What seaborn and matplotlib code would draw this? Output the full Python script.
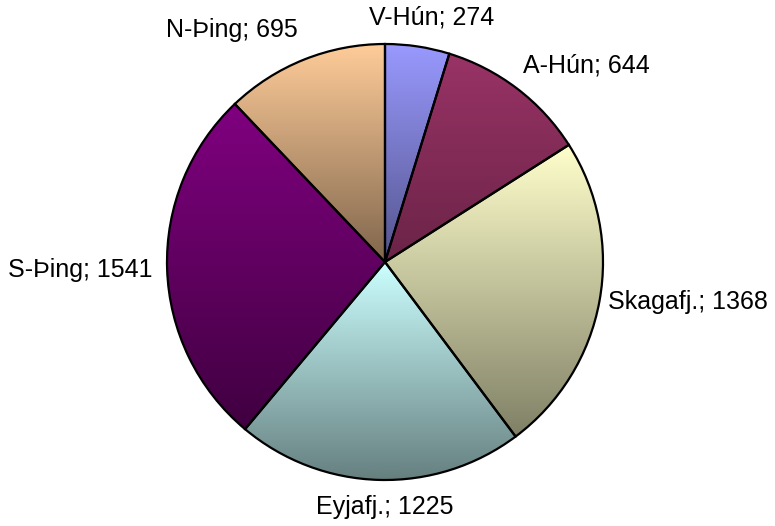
"""
Pie chart of counts per district, with the old spreadsheet style
vertical gradient fill in each slice.
"""
import numpy as np
import matplotlib
matplotlib.use("Agg")
import matplotlib.pyplot as plt
import seaborn as sns

districts = ["V-Hún", "A-Hún", "Skagafj.", "Eyjafj.", "S-Þing", "N-Þing"]
counts = [274, 644, 1368, 1225, 1541, 695]
colors = ["#9999FF", "#993366", "#FFFFCC", "#CCFFFF", "#800080", "#FFCC99"]
# how dark the bottom of each slice gets (share of the base colour)
darkness = [0.55, 0.7, 0.5, 0.5, 0.5, 0.5]

# label centres in pixels of the 775x526 figure (from the top left)
label_pos = [(432, 18), (586, 65), (688, 302), (385, 507), (80, 270), (232, 30)]

W, H = 775, 526
CX, CY, R = 385, H - 262, 218


def gradient_fill(ax, wedge, color, dark):
    # vertical gradient from the base colour at the top of the slice
    # to a darker shade at its bottom, clipped to the slice
    th = np.radians(np.linspace(wedge.theta1, wedge.theta2, 200))
    xs = np.r_[wedge.center[0], wedge.center[0] + wedge.r * np.cos(th)]
    ys = np.r_[wedge.center[1], wedge.center[1] + wedge.r * np.sin(th)]
    base = np.array(matplotlib.colors.to_rgb(color))
    t = np.linspace(0, 1, 256)[:, None]
    grad = base[None, :] * (1 - t * (1 - dark))
    img = ax.imshow(grad[:, None, :], extent=[xs.min(), xs.max(), ys.min(), ys.max()],
                    origin="upper", aspect="auto", interpolation="bilinear", zorder=1)
    img.set_clip_path(wedge)


def main():
    sns.set_style("white")
    plt.rcParams["font.family"] = ["Liberation Sans", "DejaVu Sans"]

    fig = plt.figure(figsize=(W / 100, H / 100), dpi=100)
    ax = fig.add_axes([0, 0, 1, 1])
    wedges, _ = ax.pie(counts, startangle=90, counterclock=False, center=(CX, CY),
                       radius=R, wedgeprops=dict(facecolor="none", edgecolor="black",
                                                 linewidth=1.6, zorder=3))
    for w, c, d in zip(wedges, colors, darkness):
        gradient_fill(ax, w, c, d)

    for name, n, (x, y) in zip(districts, counts, label_pos):
        ax.text(x, H - y, "{}; {}".format(name, n), ha="center", va="center",
                fontsize=18, color="black")

    ax.set_xlim(0, W)
    ax.set_ylim(0, H)
    ax.set_aspect("equal")
    ax.axis("off")
    fig.savefig("out.png", dpi=100, facecolor="white")


if __name__ == '__main__':
    main()
